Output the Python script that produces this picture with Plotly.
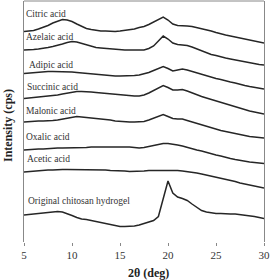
import plotly.graph_objects as go

theta = [5 + 0.5 * i for i in range(51)]

citric = [210.5, 211, 211.5, 213, 214.5, 216.5, 219, 221, 222.5, 222, 220.5, 218, 215.5, 213.5, 212.5, 211.5,
          211, 211, 210.5, 210.5, 211, 211.5, 212, 213, 214.5, 215.5, 217.5, 220, 222.5, 225, 222, 218, 216.5,
          216.5, 216, 215.5, 214.5, 213.5, 212, 211, 209.5, 208, 207, 206, 205, 204, 203, 202, 201, 200, 199]
azelaic = [192, 192, 192.5, 193, 193.5, 194.5, 195.5, 196.5, 198, 199.5, 200.5, 200, 198.5, 197, 195.5, 194.5,
           194, 193.5, 193, 192.5, 192, 192, 192, 192, 191.5, 192, 193.5, 196, 201, 206, 203, 199, 197.5,
           197, 196.5, 195, 193, 191, 189, 187.5, 186.5, 185, 184, 183, 182, 181, 180, 179, 178.5, 177.5, 177]
adipic = [168.5, 169, 169.5, 170, 170, 170.5, 170.5, 170.5, 170, 170, 170, 169.5, 169, 168.5, 168, 167.5,
          167, 166.5, 166.5, 166, 166, 166, 166, 166.5, 167, 168, 169.5, 171.5, 173.5, 175.5, 173.5, 171, 172,
          173, 172, 170.5, 169, 167.5, 166, 164.5, 163.5, 162.5, 161, 160, 159, 157.5, 156.5, 155.5, 154.5, 153.5, 153]
succinic = [143.5, 144, 144, 144.5, 145, 145.5, 146, 147, 148, 149, 150, 150.5, 150.5, 150.5, 150, 149.5,
            149, 148.5, 148, 147.5, 147, 146.5, 146, 146, 146, 147, 149, 151.5, 154, 156.5, 154.5, 152, 152,
            152.5, 151, 149, 147, 145.5, 144, 142.5, 141, 139.5, 138, 136.5, 135, 133.5, 132, 131, 130, 129, 128]
malonic = [120, 120.5, 120.5, 121, 121, 121, 121.5, 122, 123, 124, 125, 125.5, 125, 124.5, 124, 123.5,
           123.5, 123, 122, 121, 120.5, 120, 120, 120, 120, 120.5, 122, 124, 126, 127.5, 125.5, 123.5, 123,
           123, 121.5, 120, 118.5, 117, 115.5, 114, 112.5, 111.5, 110.5, 109.5, 108, 107, 106.5, 105.5, 105, 104.5, 104]
oxalic = [92, 92.5, 92.5, 93, 93, 93.5, 93.5, 94, 94, 94, 94.5, 94.5, 94.5, 94.5, 95, 95,
          95, 95.5, 95.5, 95.5, 95.5, 95, 95, 94.5, 94, 94.5, 95.5, 96.5, 97.5, 98.5, 98.5, 98, 97,
          96, 94.5, 93.5, 92, 91, 89.5, 88.5, 87, 86, 84.5, 83.5, 82.5, 81.5, 81, 80, 79.5, 79, 78.5]
acetic = [70, 70.5, 71, 71.5, 71.5, 72, 72, 72.5, 72.5, 72.5, 72.5, 72.5, 72.5, 72.5, 72.5, 72,
          72, 72, 71.5, 71.5, 71, 71, 70.5, 70.5, 70.5, 71, 71.5, 71.5, 72, 72, 72, 71.5, 71.5,
          71, 70.5, 70, 69, 68, 67, 66, 65, 64, 62.5, 61.5, 60.5, 59, 58, 57, 56, 55, 54]
chitosan = [27, 27.5, 28, 28.5, 29, 30, 30.5, 30.5, 30, 28.5, 26.5, 24.5, 23, 22.5, 21.5, 20.5,
            19, 18, 17, 16, 15.5, 15.5, 15.5, 16, 17, 18.5, 20, 21.5, 25.5, 42, 61, 49, 45,
            43.5, 41.5, 38, 34.5, 31.5, 30, 29, 28.5, 28.5, 28, 28, 28, 27.5, 27, 26.5, 25.5, 24.5, 23.5]

series = [citric, azelaic, adipic, succinic, malonic, oxalic, acetic, chitosan]
labels = ["Citric acid", "Azelaic acid", "Adipic acid", "Succinic acid", "Malonic acid",
          "Oxalic acid", "Acetic acid", "Original chitosan hydrogel"]
label_x = [5.05, 5.01, 5.35, 5.1, 5.05, 5.01, 5.1, 5.2]
label_y = [228, 205, 177, 155.3, 131, 104.7, 82.7, 41.3]

xticks = [5, 10, 15, 20, 25, 30]

FONT = "Liberation Serif"
fig = go.Figure()
for s in series:
    fig.add_trace(go.Scatter(x=theta, y=s, mode="lines", line=dict(color="#262626", width=1.5),
                             showlegend=False, hoverinfo="skip"))
for t, lx, ly in zip(labels, label_x, label_y):
    fig.add_annotation(x=lx, y=ly, text=t, showarrow=False, xanchor="left", yanchor="middle",
                       font=dict(family=FONT, size=9.5, color="#333"))

fig.add_shape(type="line", xref="paper", yref="paper", x0=0, x1=1, y0=1, y1=1,
              line=dict(color="#888", width=1))

fig.add_annotation(xref="paper", yref="paper", x=0.52, y=-0.129, text="<b>2θ (deg)</b>",
                   showarrow=False, xanchor="center", yanchor="middle",
                   font=dict(family=FONT, size=12, color="#222"))
fig.add_annotation(xref="paper", yref="paper", x=-0.067, y=0.485, text="<b>Intensity (cps)</b>",
                   showarrow=False, xanchor="center", yanchor="middle", textangle=-90,
                   font=dict(family=FONT, size=12, color="#222"))

fig.update_layout(
    width=270, height=280,
    margin=dict(l=24, r=6, t=1, b=38),
    paper_bgcolor="white", plot_bgcolor="white",
    font=dict(family=FONT, size=11, color="#222"),
    xaxis=dict(range=[5, 30], tickvals=xticks, ticktext=[str(v) for v in xticks],
               showgrid=False, zeroline=False, showline=False,
               ticks="outside", ticklen=3, tickcolor="#888",
               tickfont=dict(family=FONT, size=11, color="#333")),
    yaxis=dict(range=[0, 241], showgrid=False, zeroline=False, showticklabels=False, ticks="",
               showline=True, mirror=True, linecolor="#888", linewidth=1),
)

fig.write_html("out.html", config={"displayModeBar": False},
               post_script="document.body.style.margin='0';document.body.style.padding='0';")
